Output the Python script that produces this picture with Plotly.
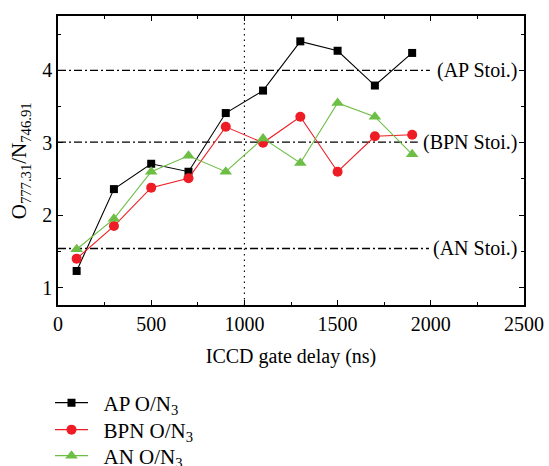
import plotly.graph_objects as go

# ICCD gate delay (ns)
delay = [100, 300, 500, 700, 900, 1100, 1300, 1500, 1700, 1900]

# O(777.31)/N(746.91) line intensity ratios
ap_ratio = [1.23, 2.36, 2.71, 2.60, 3.41, 3.72, 4.40, 4.27, 3.79, 4.24]
bpn_ratio = [1.40, 1.85, 2.38, 2.51, 3.22, 3.00, 3.36, 2.60, 3.09, 3.11]
an_ratio = [1.53, 1.95, 2.60, 2.82, 2.60, 3.06, 2.72, 3.55, 3.36, 2.84]

# Stoichiometric reference levels
stoi_labels = ["(AP Stoi.)", "(BPN Stoi.)", "(AN Stoi.)"]
stoi_values = [4.00, 3.01, 1.54]
stoi_line_end = [1995, 1930, 1990]

x_ticks = [0, 500, 1000, 1500, 2000, 2500]
y_ticks = [1, 2, 3, 4]

FONT = "Liberation Serif"
BLACK = "#000000"
RED = "#ee1c24"
GREEN = "#6dbe45"
NBSP = "\u00a0\u00a0"

fig = go.Figure()

series = [
    ("AP O/N<sub>3</sub>", ap_ratio, BLACK, "square", 8, "legend"),
    ("BPN O/N<sub>3</sub>", bpn_ratio, RED, "circle", 10, "legend2"),
    ("AN O/N<sub>3</sub>", an_ratio, GREEN, "triangle-up", 11, "legend3"),
]
for name, vals, color, symbol, size, leg in series:
    fig.add_trace(go.Scatter(
        x=delay, y=vals, name=NBSP + name, legend=leg,
        mode="lines+markers",
        line=dict(color=color, width=1.1),
        marker=dict(symbol=symbol, size=size, color=color, line=dict(width=0)),
    ))

# stoichiometric reference lines and labels
for label, val, xend in zip(stoi_labels, stoi_values, stoi_line_end):
    fig.add_shape(type="line", xref="x", yref="y", x0=0, x1=xend, y0=val, y1=val,
                  line=dict(color=BLACK, width=1.3, dash="8px,3px,2px,3px"), layer="below")
    fig.add_annotation(x=2475, y=val, xref="x", yref="y", text=label, showarrow=False,
                       xanchor="right", yanchor="middle",
                       font=dict(family=FONT, size=20, color=BLACK))

# marker at 1000 ns
fig.add_shape(type="line", xref="x", yref="paper", x0=1000, x1=1000, y0=0, y1=1,
              line=dict(color=BLACK, width=1.1, dash="1.5px,4px"), layer="below")

# y-axis title, rotated
fig.add_annotation(x=-0.082, y=0.5, xref="paper", yref="paper",
                   text="O<sub>777.31</sub>/N<sub>746.91</sub>", showarrow=False,
                   textangle=-90, xanchor="center", yanchor="middle",
                   font=dict(family=FONT, size=21, color=BLACK))

axis_common = dict(
    showline=True, linecolor=BLACK, linewidth=1.5, mirror="allticks",
    ticks="inside", ticklen=5, tickwidth=1.2, tickcolor=BLACK,
    showgrid=False, zeroline=False,
    tickfont=dict(family=FONT, size=20, color=BLACK),
)

fig.update_xaxes(
    range=[0, 2500], tickvals=x_ticks,
    minor=dict(ticks="inside", ticklen=3, tickwidth=1, tickcolor=BLACK, dtick=250, showgrid=False),
    title=dict(text="ICCD gate delay (ns)", font=dict(family=FONT, size=20, color=BLACK)),
    **axis_common,
)
fig.update_yaxes(
    range=[0.76, 4.75], tickvals=y_ticks,
    minor=dict(ticks="inside", ticklen=3, tickwidth=1, tickcolor=BLACK, dtick=0.5, tick0=0.5, showgrid=False),
    **axis_common,
)

# one legend per series, stacked below the plot
legend_rows = {"legend": 403, "legend2": 430, "legend3": 456}
legend_layout = {}
for key, row_y in legend_rows.items():
    legend_layout[key] = dict(
        xref="container", yref="container",
        x=50 / 549, y=1 - row_y / 466, xanchor="left", yanchor="middle",
        bgcolor="rgba(0,0,0,0)", borderwidth=0,
        font=dict(family=FONT, size=21, color=BLACK),
        itemwidth=33,
    )

fig.update_layout(
    width=549, height=466,
    margin=dict(l=58, r=25, t=16, b=161, autoexpand=False),
    paper_bgcolor="white", plot_bgcolor="white",
    font=dict(family=FONT, size=19, color=BLACK),
    showlegend=True,
    **legend_layout,
)

fig.write_html("out.html")
